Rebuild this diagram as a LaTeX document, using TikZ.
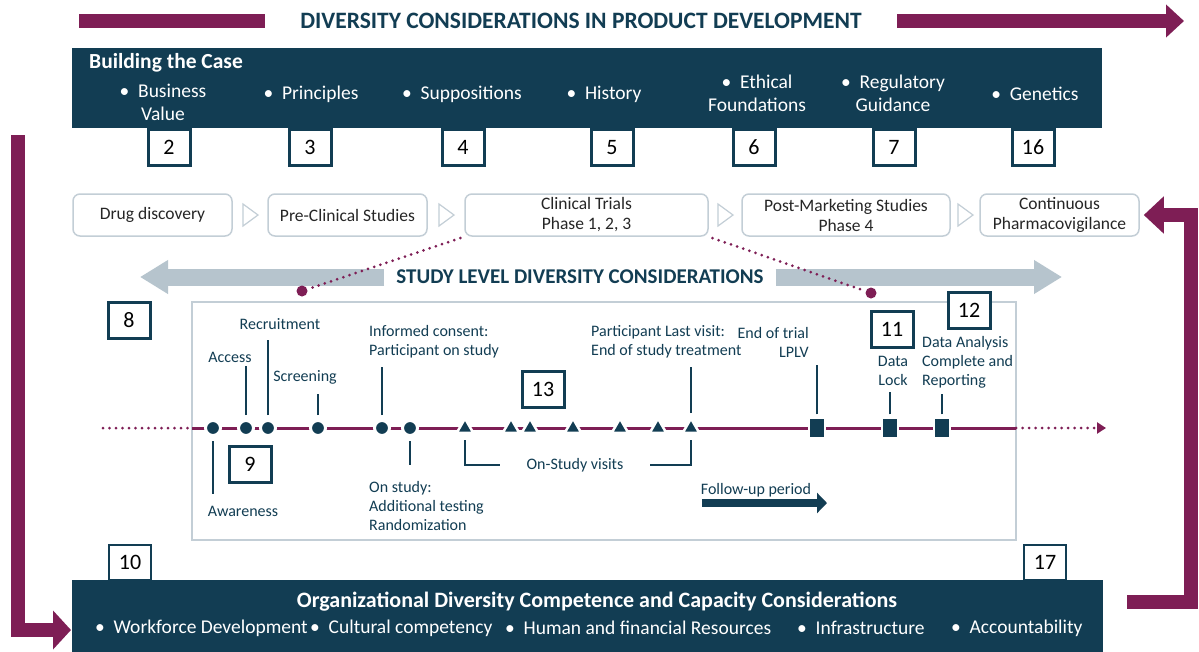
\documentclass[tikz,border=0pt]{standalone}
\usepackage{fontspec}
\setmainfont{Carlito}
\usetikzlibrary{arrows.meta,positioning,shapes.geometric,calc}
\definecolor{navy}{HTML}{123D53}
\definecolor{plum}{HTML}{7E1E55}
\definecolor{mist}{HTML}{B6C4CD}
\definecolor{rim}{HTML}{C3CED6}
\definecolor{ink}{HTML}{262626}
\newcommand{\fsz}[2]{\fontsize{#1}{#2}\selectfont}
\newcommand{\bul}{•\hspace{0.45em}}
\tikzset{
  navyband/.style={fill=navy,inner sep=0,outer sep=0},
  numbox/.style={draw=navy,line width=3,fill=white,minimum width=42,minimum height=36,inner sep=0,font=\fsz{22}{24},text=black},
  stage/.style={draw=rim,line width=1.5,rounded corners=7,fill=white,minimum height=42,align=center,inner sep=0,font=\fsz{17.5}{20},text=ink},
  chev/.style={draw=rim,line width=1.2,line join=miter},
  bcitem/.style={text=white,align=center,inner sep=0,font=\fsz{19.5}{23}},
  lbl/.style={text=navy,inner sep=2,font=\fsz{16}{19}},
  stem/.style={draw=navy,line width=1.3},
  tlcirc/.style={circle,fill=navy,draw=white,line width=3,minimum size=15,inner sep=0},
  tltri/.style={regular polygon,regular polygon sides=3,fill=navy,draw=white,line width=2.5,minimum size=19,inner sep=0},
  tlsq/.style={rectangle,fill=navy,draw=white,line width=2.5,minimum width=16,minimum height=21,inner sep=0},
  fatbar/.style={line width=14,line join=miter,draw=plum},
  knob/.style={circle,fill=plum,minimum size=11,inner sep=0},
  trail/.style={draw=plum,line width=3,line cap=round,dash pattern=on 0pt off 6.5pt},
}
\begin{document}
\begin{tikzpicture}[x=1pt,y=-1pt]
\path[use as bounding box,fill=white] (0,0) rectangle (1199,651);
\node[text=navy,font=\bfseries\fsz{23.5}{26},inner sep=0] (ttl) at (581,21) {DIVERSITY CONSIDERATIONS IN PRODUCT DEVELOPMENT};
\coordinate (ba) at (79,21);
\coordinate (bb) at (265,21);
\coordinate (bc) at (897,21);
\coordinate (bd) at (1184,21);
\draw[fatbar] (ba) -- (bb);
\draw[fatbar,-{Triangle[length=18,width=32]}] (bc) -- (bd);
\node[navyband,minimum width=1030,minimum height=80,anchor=north west] (bcase) at (72,48) {};
\node[bcitem,font=\bfseries\fsz{21.5}{24},anchor=west] (bhead) at (89,63) {Building the Case};
\foreach \nm/\x/\y/\t in {bv/163/102/{\bul Business\\Value},pr/311/94/{\bul Principles},su/462/94/{\bul Suppositions},hi/604/94/{\bul History},ef/757/93/{\bul Ethical\\Foundations},rg/893/93/{\bul Regulatory\\Guidance},ge/1035/94/{\bul Genetics}}{\node[bcitem] (\nm) at (\x,\y) {\t};}
\foreach \n/\x in {2/169,3/310,4/463,5/612,6/754,7/894,16/1033}{\node[numbox,anchor=north] (n\n) at (\x,128) {\n};}
\node[stage,minimum width=159] (dd) at (152.5,215) {Drug discovery};
\node[stage,minimum width=159] (pcs) at (347.5,215) {Pre-Clinical Studies};
\node[stage,minimum width=243] (ct) at (586.5,215) {Clinical Trials\\Phase 1, 2, 3};
\node[stage,minimum width=208] (pms) at (846,215) {Post-Marketing Studies\\Phase 4};
\node[stage,minimum width=159] (cpv) at (1059.5,215) {Continuous\\Pharmacovigilance};
\foreach \a/\b in {dd/pcs,pcs/ct,ct/pms,pms/cpv}{\draw[chev] ($(\a.east)!0.5!(\b.west)$) ++(-7,-11) -- ++(15,11) -- ++(-15,11) -- cycle;}
\node[text=navy,font=\bfseries\fsz{21}{24},inner sep=0] (slt) at (580,277) {STUDY LEVEL DIVERSITY CONSIDERATIONS};
\coordinate (sla) at (140,277);
\coordinate (slb) at (1062,277);
\draw[mist,line width=17,-{Triangle[length=28,width=32]}] ([xshift=-12]slt.west) -- (sla);
\draw[mist,line width=17,-{Triangle[length=28,width=32]}] ([xshift=12]slt.east) -- (slb);
\node[draw=rim,line width=1.5,minimum width=824,minimum height=238,inner sep=0] (sbox) at (604,421) {};
\node[knob] (k1) at (302,291) {};
\node[knob] (k2) at (871,293) {};
\draw[trail,shorten <=4] (ct.south west) -- (k1);
\draw[trail,shorten <=4] (ct.south east) -- (k2);
\coordinate (tla) at (103,428);
\coordinate (tlb) at (192,428);
\coordinate (tlc) at (1016,428);
\coordinate (tld) at (1106,428);
\draw[trail] (tla) -- (tlb);
\draw[plum,line width=3] (tlb) -- (tlc);
\draw[trail,-{Triangle[length=9,width=11]}] (tlc) -- (tld);
\foreach \x [count=\i] in {213,246,268,318,382,410}{\node[tlcirc] (c\i) at (\x,428) {};}
\foreach \x [count=\i] in {465,511,530,573,620,658,691}{\node[tltri] (t\i) at (\x,428) {};}
\foreach \x [count=\i] in {817,890,942}{\node[tlsq] (s\i) at (\x,428) {};}
\node[lbl] (aw) at (243,511) {Awareness};
\node[lbl] (acc) at (230,357) {Access};
\node[lbl] (rec) at (280,324) {Recruitment};
\node[lbl] (scr) at (305,377) {Screening};
\node[lbl,align=left,anchor=west] (ic) at (367,342) {Informed consent:\\Participant on study};
\node[lbl,align=left,anchor=west] (os) at (367,506) {On study:\\Additional testing\\Randomization};
\node[lbl] (osv) at (575,465) {On-Study visits};
\node[lbl,align=left,anchor=west] (plv) at (589,342) {Participant Last visit:\\End of study treatment};
\node[lbl,align=right,anchor=east] (eot) at (811,342) {End of trial\\LPLV};
\node[lbl,align=center] (dl) at (893,371) {Data\\Lock};
\node[lbl,align=left,anchor=west] (da) at (920,362) {Data Analysis\\Complete and\\Reporting};
\draw[stem,shorten <=4,shorten >=10] (c1.south) -- (c1 |- aw.north);
\draw[stem,shorten <=4,shorten >=2] (c2.north) -- (c2 |- acc.south);
\draw[stem,shorten <=4,shorten >=8] (c3.north) -- (c3 |- rec.south);
\draw[stem,shorten <=4,shorten >=8] (c4.north) -- (c4 |- scr.south);
\draw[stem,shorten <=4,shorten >=6] (c5.north) -- (c5 |- ic.south);
\draw[stem,shorten <=4,shorten >=14] (c6.south) -- (c6 |- os.north);
\draw[stem,shorten <=3,shorten >=6] (t7.north) -- (t7 |- plv.south);
\draw[stem,shorten <=2,shorten >=6] (s1.north) -- (s1 |- eot.south);
\draw[stem,shorten <=2,shorten >=4] (s2.north) -- (s2 |- dl.south);
\draw[stem,shorten <=2,shorten >=4] (s3.north) -- (s3 |- da.south);
\draw[stem,shorten <=6] (t1.south) |- ([xshift=-24]osv.west);
\draw[stem,shorten <=6] (t7.south) |- ([xshift=24]osv.east);
\node[lbl] (fu) at (756,490) {Follow-up period};
\coordinate (fa) at (702,503);
\coordinate (fb) at (827,503);
\draw[navy,line width=8,-{Triangle[length=10,width=20]}] (fa) -- (fb);
\foreach \n/\x/\y in {8/129/320,9/250/464,13/543/389,11/892/329,12/969/310}{\node[numbox] (n\n) at (\x,\y) {\n};}
\node[navyband,minimum width=1031,minimum height=72,anchor=north west] (org) at (72,580) {};
\foreach \n/\x in {10/130,17/1045}{\node[numbox,line width=2.5,minimum height=35,anchor=south] (n\n) at (\x,581) {\n};}
\node[text=white,font=\bfseries\fsz{22}{24},inner sep=0] (orgt) at (597,602) {Organizational Diversity Competence and Capacity Considerations};
\foreach \nm/\x/\t in {wd/95/Workforce Development,cc/310/Cultural competency,hr/505/Human and financial Resources,is/797/Infrastructure,ac/951/Accountability}{\node[text=white,font=\fsz{19.5}{22},inner sep=0,anchor=west] (\nm) at (\x,628) {\bul\t};}
\coordinate (la) at (18,135);
\coordinate (lb) at (71,630);
\draw[fatbar,-{Triangle[length=18,width=38]}] (la) |- (lb);
\coordinate (ra) at (1127,602);
\draw[fatbar,-{Triangle[length=20,width=36]}] (ra) -| ($(cpv.east)+(51,0)$) -- ([xshift=4]cpv.east);
\end{tikzpicture}
\end{document}
